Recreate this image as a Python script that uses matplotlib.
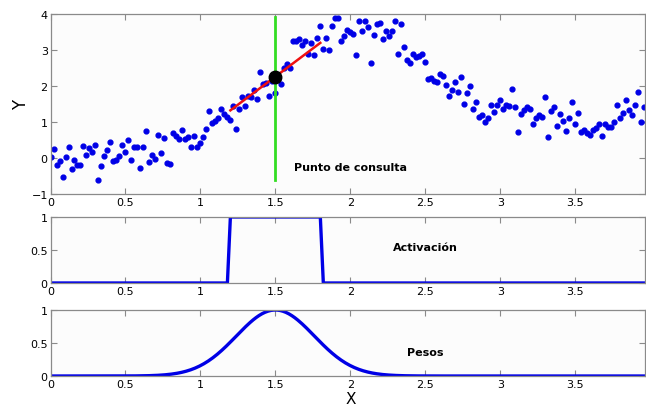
import numpy as np
import matplotlib.pyplot as plt

# noisy samples (x every 0.02)
x_pts = [round(0.02 * i, 2) for i in range(200)]
y_pts = [0.05, 0.26, -0.19, -0.07, -0.52, 0.04, 0.31, -0.30, -0.04, -0.18,
         -0.19, 0.33, 0.08, 0.29, 0.19, 0.36, -0.59, -0.20, 0.07, 0.22,
         0.46, -0.06, -0.05, 0.07, 0.36, 0.19, 0.52, -0.05, 0.32, 0.32,
         -0.27, 0.32, 0.76, -0.09, 0.09, -0.01, 0.65, 0.16, 0.56, -0.12,
         -0.15, 0.71, 0.62, 0.55, 0.78, 0.55, 0.59, 0.31, 0.62, 0.31,
         0.43, 0.59, 0.81, 1.30, 0.97, 1.03, 1.13, 1.38, 1.24, 1.14,
         1.05, 1.44, 0.81, 1.38, 1.71, 1.44, 1.74, 1.70, 1.90, 1.65,
         2.38, 2.05, 2.08, 1.74, 2.13, 1.82, 2.20, 2.05, 2.49, 2.62,
         2.50, 3.24, 3.24, 3.32, 3.14, 3.26, 2.90, 3.20, 2.87, 3.34,
         3.68, 3.03, 3.34, 3.00, 3.68, 3.89, 3.89, 3.26, 3.38, 3.57,
         3.50, 3.45, 2.85, 3.80, 3.53, 3.80, 3.64, 2.63, 3.43, 3.71,
         3.74, 3.31, 3.52, 3.38, 3.54, 3.80, 2.88, 3.73, 3.09, 2.72,
         2.65, 2.88, 2.80, 2.83, 2.90, 2.68, 2.19, 2.23, 2.14, 2.12,
         2.34, 2.27, 2.04, 1.74, 1.89, 2.11, 1.83, 2.25, 1.52, 1.80,
         2.01, 1.36, 1.56, 1.16, 1.20, 1.01, 1.13, 1.49, 1.28, 1.49,
         1.62, 1.38, 1.49, 1.45, 1.92, 1.42, 0.72, 1.24, 1.34, 1.42,
         1.36, 0.96, 1.11, 1.20, 1.15, 1.69, 0.59, 1.32, 1.42, 0.89,
         1.22, 1.04, 0.76, 1.11, 1.57, 0.95, 1.26, 0.74, 0.80, 0.71,
         0.65, 0.80, 0.83, 0.96, 0.62, 0.95, 0.88, 0.88, 1.02, 1.47,
         1.13, 1.26, 1.62, 1.35, 1.19, 1.48, 1.83, 1.01, 1.42, 1.00]

# query point and local fit
x_query = 1.5
y_query = 2.26
fit_x = [1.2, 1.8]
fit_y = [1.33, 3.20]
green_y = [-0.6, 3.92]

# activation window
act_x = [0, 1.18, 1.2, 1.8, 1.82, 3.97]
act_y = [0, 0, 1, 1, 0, 0]

# gaussian weights
w_center = 1.5
w_sigma = 0.26

xticks = [0, 0.5, 1, 1.5, 2, 2.5, 3, 3.5]
xticklabels = ['0', '0.5', '1', '1.5', '2', '2.5', '3', '3.5']
XMAX = 3.965

blue = '#0000e6'
spine_c = '#8a8a8a'


def style(ax):
    ax.set_facecolor('#fcfcfc')
    for s in ax.spines.values():
        s.set_color(spine_c)
        s.set_linewidth(0.9)
    ax.tick_params(direction='in', top=True, right=True, length=4,
                   color=spine_c, labelsize=8, pad=2)
    ax.set_xlim(0, XMAX)
    ax.set_xticks(xticks)
    ax.set_xticklabels(xticklabels)


fig = plt.figure(figsize=(6.46, 4.06), dpi=100)
ax1 = fig.add_axes([0.0782, 0.5185, 0.920, 0.4446])
ax2 = fig.add_axes([0.0782, 0.3005, 0.920, 0.1626])
ax3 = fig.add_axes([0.0782, 0.0714, 0.920, 0.1626])

style(ax1)
ax1.scatter(x_pts, y_pts, s=12, color=blue, zorder=2, clip_on=True)
ax1.plot([x_query, x_query], green_y, color='#33dd22', lw=2, zorder=3)
ax1.plot(fit_x, fit_y, color='#ee1111', lw=1.8, zorder=4)
ax1.plot(x_query, y_query, 'o', color='black', markersize=9, zorder=5)
ax1.set_ylim(-1, 4)
ax1.set_yticks([-1, 0, 1, 2, 3, 4])
ax1.set_ylabel('Y', fontsize=12, rotation=90, va='center')
ax1.yaxis.set_label_coords(-0.05, 0.5)
ax1.text(2.0, -0.25, 'Punto de consulta', fontsize=8, fontweight='bold',
         ha='center', va='center')

style(ax2)
ax2.plot(act_x, act_y, color=blue, lw=2.4)
ax2.set_ylim(0, 1)
ax2.set_yticks([0, 0.5, 1])
ax2.set_yticklabels(['0', '0.5', '1'])
ax2.text(2.5, 0.54, 'Activación', fontsize=8, fontweight='bold',
         ha='center', va='center')

style(ax3)
xs = np.linspace(0, XMAX, 400)
ax3.plot(xs, np.exp(-(xs - w_center) ** 2 / (2 * w_sigma ** 2)), color=blue, lw=2.4)
ax3.set_ylim(0, 1)
ax3.set_yticks([0, 0.5, 1])
ax3.set_yticklabels(['0', '0.5', '1'])
ax3.text(2.5, 0.37, 'Pesos', fontsize=8, fontweight='bold',
         ha='center', va='center')
ax3.set_xlabel('X', fontsize=11, va='center')
ax3.xaxis.set_label_coords(0.505, -0.34)

fig.savefig('out.png', dpi=100)
